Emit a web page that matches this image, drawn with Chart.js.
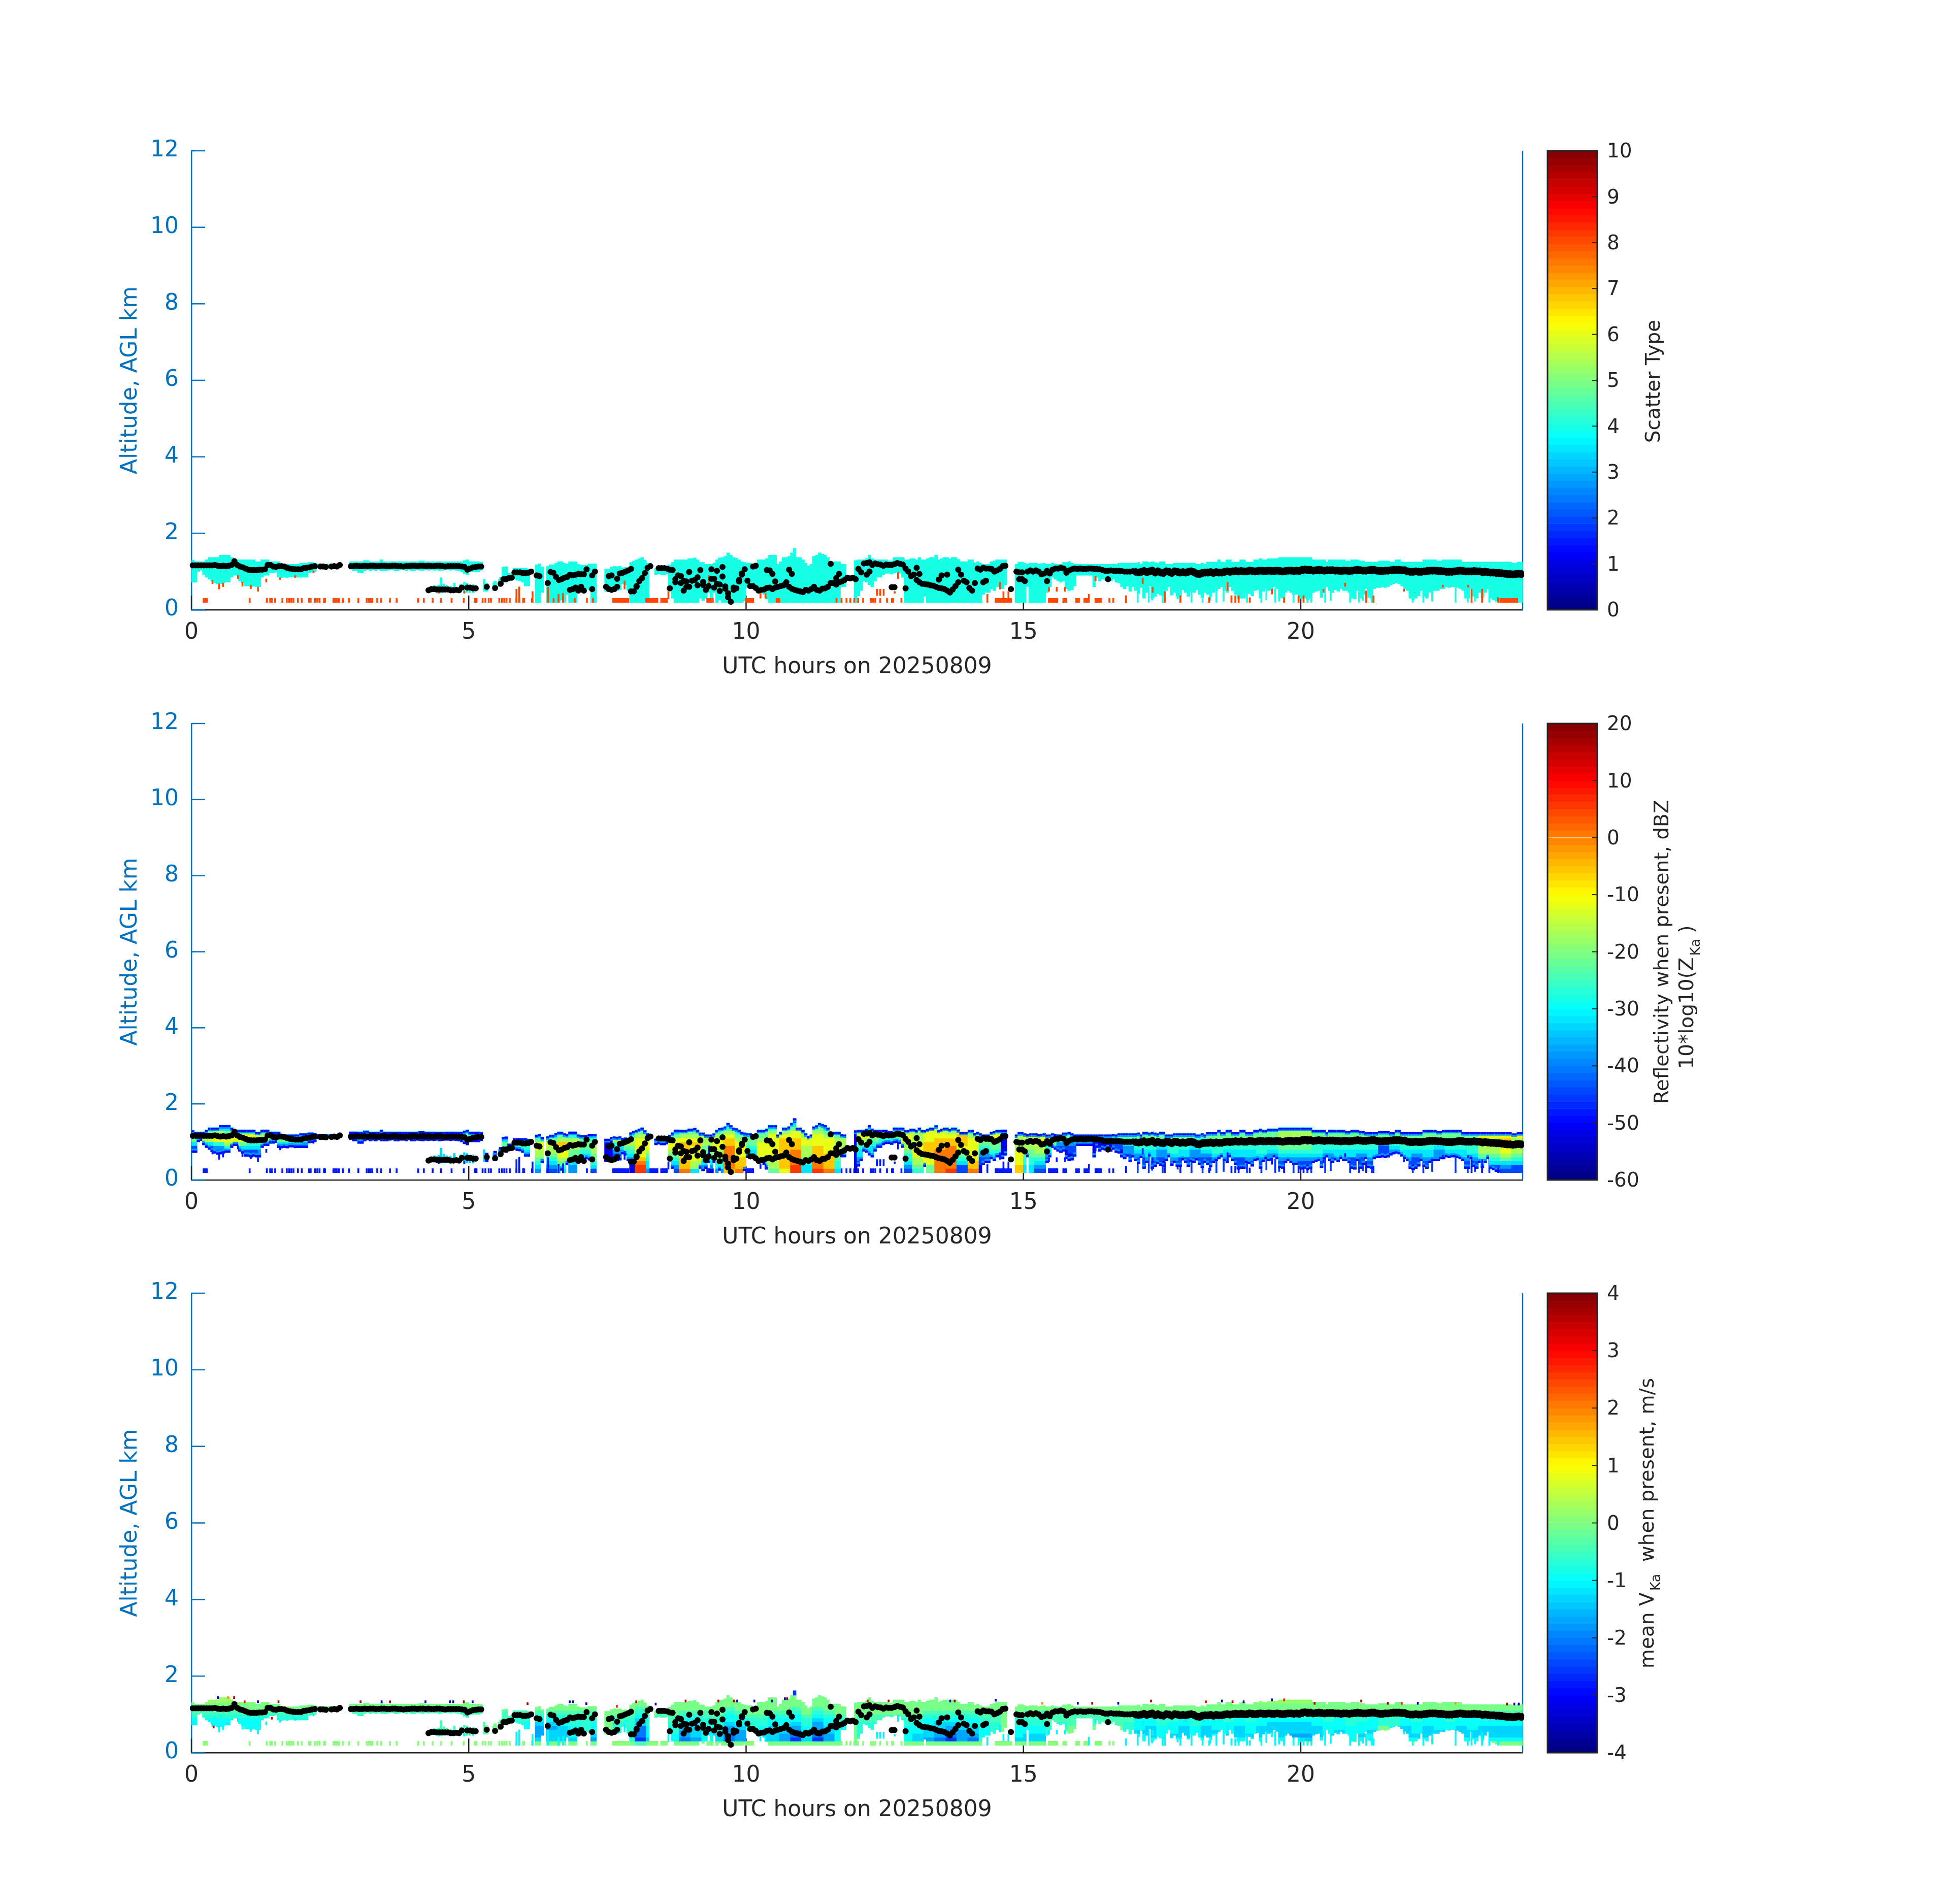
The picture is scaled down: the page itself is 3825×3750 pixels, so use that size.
<!DOCTYPE html>
<html>
<head>
<meta charset="utf-8">
<title>Radar time-height</title>
<script src="https://cdn.jsdelivr.net/npm/chart.js@4"></script>
<style>
    body { margin: 0; background: #fff; }
    #page { position: relative; width: 3825px; height: 3750px; background: #fff; }
    canvas { position: absolute; }
</style>
</head>
<body>
<div id="page"></div>
<script>
// tick labels
const xTicks = [0, 5, 10, 15, 20];
const yTicks = [0, 2, 4, 6, 8, 10, 12];
const typeTicks = [0, 1, 2, 3, 4, 5, 6, 7, 8, 9, 10];
const reflTicks = [-60, -50, -40, -30, -20, -10, 0, 10, 20];
const velTicks = [-4, -3, -2, -1, 0, 1, 2, 3, 4];

// cloud top per hour, 20 columns an hour, unit 10 m, 0 = nothing
const cloudTop = [
    [130,126,126,126,126,131,137,137,137,137,143,143,143,143,137,131,131,131,131,131],
    [131,131,131,126,126,131,131,131,126,126,126,126,119,119,119,119,119,119,119,122],
    [122,122,124,124,122,120,120,120,120,120,119,119,120,118,0,0,0,126,126,126],
    [126,126,129,129,126,126,126,126,131,126,126,126,126,126,126,126,126,126,126,126],
    [126,126,128,128,126,126,126,126,126,126,126,126,126,126,126,126,126,126,129,131],
    [126,126,126,126,125,0,70,0,0,75,0,85,112,113,95,95,109,109,109,109],
    [109,107,0,0,118,120,112,0,114,118,118,122,126,126,122,120,126,126,126,119],
    [117,117,117,120,120,120,0,0,0,107,107,112,114,113,114,110,111,108,124,128],
    [131,134,137,130,122,0,0,108,112,108,108,109,118,124,131,131,131,131,131,134],
    [134,136,131,124,124,119,119,119,122,131,136,137,140,149,143,137,135,131,126,124],
    [122,122,119,119,131,131,131,134,143,143,143,119,126,137,137,140,149,161,137,137],
    [131,122,115,119,140,143,149,146,143,137,126,126,126,126,120,119,0,0,0,129],
    [131,131,131,134,143,134,131,131,131,131,131,128,128,137,137,137,137,131,131,134],
    [134,131,137,131,131,134,137,137,143,131,134,137,137,134,137,137,132,126,126,126],
    [131,131,123,126,122,119,119,119,126,128,131,131,131,131,0,0,0,119,125,125],
    [122,120,122,122,122,120,121,122,119,119,122,120,119,119,124,124,126,122,119,119],
    [119,119,119,119,119,119,119,119,119,119,119,119,120,119,122,122,122,122,122,122],
    [122,124,119,126,126,124,126,124,122,126,126,119,119,119,122,122,122,122,122,122],
    [122,122,119,119,122,119,125,125,125,125,131,125,125,131,131,125,125,125,131,131],
    [125,125,125,131,131,134,131,131,134,134,134,134,137,137,137,137,137,137,137,137],
    [137,137,137,137,131,131,131,131,131,125,131,131,131,131,131,131,128,128,131,131],
    [131,128,128,125,125,125,125,125,128,128,128,128,125,125,131,131,125,125,125,125],
    [125,125,125,125,131,131,131,131,131,128,128,131,131,131,131,131,131,131,125,125],
    [125,125,125,125,125,125,125,125,125,125,125,125,125,125,125,125,122,122,125,125]
];

// cloud base, same columns
const cloudBase = [
    [72,72,100,103,92,85,80,74,70,67,68,70,72,72,85,90,90,75,70,62],
    [62,60,62,60,60,85,90,90,96,96,98,85,84,85,84,86,86,85,85,85],
    [85,85,97,98,100,108,108,110,108,110,108,110,110,112,0,0,0,106,102,102],
    [96,96,102,105,102,104,102,105,102,102,102,104,105,102,102,104,104,102,105,102],
    [102,104,103,102,104,103,104,103,104,102,103,104,104,103,104,103,102,100,95,92],
    [100,100,100,100,103,0,48,0,0,50,0,65,75,72,78,80,80,77,76,72],
    [62,62,0,0,19,19,45,0,19,19,19,19,19,25,19,40,19,19,19,45],
    [50,50,55,52,19,19,0,0,0,48,48,48,48,50,52,68,65,50,19,19],
    [19,19,19,19,19,0,0,92,94,92,92,94,50,30,19,19,19,19,19,19],
    [19,19,19,30,24,30,45,19,45,19,25,19,19,19,19,19,19,19,19,24],
    [58,58,58,55,45,50,40,28,19,19,19,19,19,19,19,19,19,19,19,19],
    [19,19,19,19,19,19,19,19,19,19,19,19,19,19,60,60,0,0,0,19],
    [36,50,75,72,65,60,75,85,85,92,95,95,93,97,98,95,85,19,19,19],
    [19,19,19,19,35,19,19,19,19,19,19,19,19,19,19,19,19,19,19,19],
    [19,19,19,19,19,40,45,45,55,50,60,60,55,65,0,0,0,19,19,19],
    [19,60,19,19,19,19,19,19,45,60,85,80,75,72,75,55,50,52,62,90],
    [90,90,90,90,90,60,85,75,80,78,82,75,80,72,70,60,55,62,48,60],
    [50,42,58,30,45,62,30,35,42,38,35,50,60,38,45,35,35,52,45,35],
    [48,45,52,40,32,45,40,34,45,50,55,60,50,45,60,50,40,28,30,30],
    [45,42,36,50,52,30,48,55,50,52,60,55,32,30,45,50,45,40,40,30],
    [28,30,26,30,45,48,50,32,55,60,50,45,52,48,55,50,50,45,30,28],
    [50,30,40,55,32,30,55,58,58,60,58,60,65,68,70,68,62,55,50,30],
    [26,30,36,50,35,30,45,50,50,50,55,55,60,58,60,60,58,55,50,30],
    [30,55,35,30,45,32,45,55,30,26,22,22,19,19,19,19,19,19,19,19]
];

// cloud base dots from the ceilometer, same columns, unit 10 m
const ceilUpper = [
    [116,116,116,116,116,116,116,116,117,115,114,115,114,115,117,127,117,113,111,108],
    [105,104,104,104,105,105,106,117,117,113,112,114,114,113,110,108,107,106,106,106],
    [109,110,111,113,114,0,113,113,112,0,113,114,113,117,0,0,0,114,114,115],
    [114,114,115,114,115,115,114,114,115,115,114,114,115,115,114,114,113,114,114,115],
    [115,114,115,115,114,115,114,114,115,115,114,113,114,114,114,114,114,113,112,105],
    [108,111,112,113,113,0,0,0,0,0,0,68,80,80,83,84,98,98,98,96],
    [96,97,100,0,90,88,0,0,70,99,97,86,78,80,84,86,92,90,92,94],
    [93,93,106,0,90,100,0,0,0,0,88,90,0,81,95,97,100,103,107,0],
    [62,75,83,96,110,114,0,0,109,109,109,108,105,104,80,90,88,76,74,99],
    [76,78,85,104,73,52,62,106,81,102,49,112,61,43,21,52,56,74,95,106],
    [76,62,62,57,50,52,53,57,58,54,58,60,62,64,72,60,55,52,50,48],
    [46,52,50,54,60,52,50,55,56,60,70,70,66,72,74,78,84,82,84,80],
    [107,98,121,122,124,117,121,119,118,115,118,117,117,119,122,120,118,108,100,88],
    [92,78,72,68,67,66,64,63,60,57,56,54,50,45,53,62,72,0,76,72],
    [57,50,70,108,105,110,108,108,107,100,103,107,114,115,0,0,0,100,98,98],
    [75,100,103,100,103,100,93,95,102,95,105,108,108,110,108,97,103,106,108,107],
    [108,107,107,108,108,107,107,106,104,102,102,103,102,102,102,101,100,100,100,101],
    [101,100,102,104,101,103,105,100,103,100,99,103,102,99,103,102,100,101,100,102],
    [103,101,97,96,99,100,100,101,99,101,100,100,102,103,102,103,104,103,104,103],
    [103,105,104,103,104,105,104,104,105,104,104,105,104,103,104,105,105,104,105,104],
    [107,108,107,107,105,106,107,106,105,106,106,106,105,105,104,105,105,104,105,106],
    [107,106,105,105,106,107,107,105,104,104,105,105,106,107,107,107,106,106,103,102],
    [102,103,102,102,103,104,105,105,105,104,104,103,102,102,102,103,104,105,104,103],
    [103,103,104,103,103,101,102,101,100,100,99,99,98,97,96,96,95,96,97,96]
];

const ceilLower = [
    [], [], [], [],
    [0,0,0,0,0,51,54,54,53,53,53,53,53,51,51,52,51,58,0,58],
    [58,56,56,0,0,0,60,0,0,57],
    [0,0,0,0,0,0,0,0,0,0,0,0,0,0,0,0,52,54,58,50],
    [60,50,0,0,54,0,0,0,0,60,54,52,54,60,0,0,0,0,48,48],
    [60,0,0,0,0,0,0,0,0,0,0,0,56,0,72,0,70,50,60,60],
    [0,0,64,0,65,0,0,81,58,68,66,87,55,33,0,58,0,78,92,0],
    [0,0,113,115,0,0,0,104,103,94,74,0,0,0,0,105,94,0,0,0],
    [0,0,0,0,0,0,0,0,0,0,120,0,83,94,0,0,0,0,0,0],
    [0,0,0,92,100,0,0,0,0,0,0,0,59,59,0,0,0,56,0,0],
    [0,110,94,0,0,0,0,0,0,79,90,0,92,0,0,0,105,92,0,0],
    [0,0,0,0,0,72,76,0,0,0,0,0,0,0,0,54,0,0,80,80],
    [0,0,0,0,0,0,0,0,75],
    [0,0,0,0,0,0,0,0,0,0,80],
    [97,96,97,99,96,98,100,95,98,95,94,98,97,94,98,97,95,96,95,97],
    [98,96,92,91,94,95,95,96,94,96,95,95,97,98,97,98,99,98,99,98],
    [98,100,99,98,99,100,99,99,100,99,99,100,99,98,99,100,100,99,100,99],
    [101,103,101,102,100,101,102,101,100,101,101,101,100,100,99,100,100,99,100,101],
    [102,101,100,100,101,102,102,100,99,99,100,100,101,102,102,102,101,101,98,97],
    [97,98,97,97,98,99,100,100,100,99,99,98,97,97,97,98,99,100,99,98],
    [98,98,99,98,98,96,97,96,95,95,94,94,93,92,91,91,90,91,92,91]
];

// reflectivity: 5 profiles an hour, one digit per gate from the ground up, digit picks from reflLevels
const gateEdges = [0.19, 0.3, 0.4, 0.5, 0.6, 0.7, 0.8, 0.9, 1.0, 1.1, 1.2, 1.3, 1.4, 1.5, 1.7];
const reflLevels = [-52, -45, -38, -32, -27, -22, -17, -12, -6, 0, 6];
const reflGrid = [
    ["00000013565310","00000013665310","00000124776310","00001246775310","00000135775210"],
    ["00000134775210","00000234665100","00000013553100","00000003553100","00000003543100"],
    ["00000002443100","00000002332100","00000002332100","00000002332100","00000001332100"],
    ["00000001353100","00000001354100","00000001253100","00000001353100","00000001354100"],
    ["00000001353100","00000001253100","00000001354100","00000001353100","00000001354100"],
    ["00000001353100","00000001353100","00000000000000","00001245310000","00001245310000"],
    ["00112345410000","23456677530000","12345667531000","34567778653100","22345567642100"],
    ["11123455543100","13455666432100","00000000000000","00111234653100","00123456642100"],
    ["aa987777765310","23345677653100","00000000353000","12345677753100","98887788765310"],
    ["36677778765310","02345556665310","24466677765310","89999998876420","98887777654210"],
    ["01233345553100","13567777655310","56677777776420","78888888876420","aa999988877531"],
    ["33456667765420","a9998887776531","98888777765310","34455566654200","00000000000110"],
    ["00123345676420","00012334565310","00000123456310","00000012455310","12344566776420"],
    ["45667776666420","55778888777420","99999988877631","a9999998876420","11345678887420"],
    ["98877777765310","00112345666410","00123455676420","00000000000000","88777766665310"],
    ["33445566676420","12345667775310","00012345676420","00000012455420","00000112455310"],
    ["00000001455420","00000000355420","00000000355420","00000011355420","00001223455420"],
    ["00112344455310","00123344455310","00012234455310","01123444555310","00113344555410"],
    ["00012234455310","00112344455310","01123444555310","00123344455310","00113344555410"],
    ["00123344455310","01123444555410","00112344455310","00123455566420","00123455566420"],
    ["00123455566420","01123444555410","00112344455310","00123344555410","00113344555410"],
    ["00112344455410","00123344455410","00000112455420","00012234455410","00123344455410"],
    ["00112344455410","00123344555410","00012234455410","00113344555410","00123344555420"],
    ["01123444555420","11345666677520","11345666677520","12356778877520","11345666677520"]
];

// mean velocity, same layout, digit picks from velLevels
const velLevels = [-2.6, -2.1, -1.7, -1.3, -1.0, -0.7, -0.4, -0.1, 0.2, 0.6];
const velGrid = [
    ["74444445677880","74444445677880","74444445677880","74444445677880","74444445677880"],
    ["74444445677880","74444445677880","74444555677780","74445555677780","74445555677780"],
    ["77775555677770","77777775677770","77777775677770","77777775677770","77777775677770"],
    ["77777775677770","77777775677770","77777775677780","77777775677770","77777775677770"],
    ["77777775677770","77777775677770","77777775677780","77777775677770","77777775677770"],
    ["77777775677770","77777775677770","77777777777770","77775556677770","77775556677770"],
    ["77444456677770","73222345677770","73332345677770","73333445677770","73444556677770"],
    ["74555556677770","72344456677770","77777777777770","77555566777770","75555556777770"],
    ["60111334567770","73444556777770","77777776677770","74455566777770","71223445677770"],
    ["72333445677770","74444556677770","73344556777770","71122344567770","72223445677770"],
    ["75555556777770","73344556777770","73333445677770","72233445677770","70112344567770"],
    ["73344556777770","70112234567770","72233445677770","74444556777770","77777777777770"],
    ["77555566777770","77555566777770","77777666777770","77777666777770","74444556777770"],
    ["73344556777770","72333445677770","71223345677770","70122345677770","72223445677770"],
    ["71233445677770","75444556777770","75555566777770","77777777777770","73444556777770"],
    ["73344556677770","73344556677770","75555666777770","77775566777770","77777666777770"],
    ["77777666777770","77777666777770","77777666777770","77777666777770","77555566777770"],
    ["74434445677770","74333445677770","74444556777780","74344455677780","74333445677770"],
    ["74444556777780","74333445677770","74434445677780","74344455677780","74333445677880"],
    ["74344455677880","74333445677880","74333345677880","74333345677880","74233345677880"],
    ["73233345677880","74333445677780","74344455677780","74434445677780","74444556777780"],
    ["74344455677780","74434445677780","77777555677770","74444556777780","74333445677780"],
    ["74344455677780","74333445677780","74434445677780","74344455677780","74333445677780"],
    ["74334445677780","74333445677780","74333445677880","74333445677880","74333445677880"]
];

// thin ticks of the lowest gates, hours
const groundTicks = [0.22,0.25,0.28,1.05,1.36,1.42,1.45,1.51,1.64,1.72,1.76,1.8,1.84,1.92,1.99,2.12,2.15,2.23,2.27,2.31,2.39,2.41,2.56,2.59,2.62,2.66,2.73,2.84,3.01,3.16,3.2,3.23,3.26,3.35,3.42,3.58,3.7,4.09,4.19,4.35,4.5,4.69,4.91,5.11,5.14,5.25,5.3,5.36,5.4,5.55,5.6,5.64,5.68,5.74,5.86,5.91,5.98,6.0,6.14,6.43,6.53,6.62,6.7,6.91,7.13,7.24,11.63,11.72,11.81,11.88,11.95,12.02,12.11,12.25,12.29,12.33,12.42,12.54,12.63,12.65,12.8,16.55,16.62];
const groundStart = [7.6, 8.2, 8.47, 9.3, 10.0, 10.55, 14.5, 15.46, 15.72, 15.95, 16.1, 16.3, 23.6];
const groundEnd = [7.88, 8.42, 8.58, 9.42, 10.15, 10.62, 14.8, 15.62, 15.78, 16.02, 16.16, 16.42, 23.92];

// short echoes hanging under the cloud: hour, low and high edge in 10 m
const spikeHours = [0.38,0.5,0.57,0.84,0.92,1.07,1.2,1.35,1.6,1.87,2.2,4.46,4.92,5.86,5.91,6.15,6.43,6.62,6.7,7.49,7.81,8.6,9.33,10.26,10.35,12.36,12.42,12.48,12.68,12.74,14.35,14.58,14.64,14.73,15.46,15.6,15.75,16.18,16.3,16.85,17.15,17.33,17.55,17.83,18.35,18.68,18.75,18.82,18.88,19.08,19.48,19.7,19.96,20.05,20.41,20.8,21.18,21.31,21.86,22.05,22.56,23.02,23.08,23.27,23.56];
const spikeLow = [68,54,60,81,61,55,48,72,79,84,96,43,43,19,19,19,19,19,19,54,54,28,54,30,30,37,37,37,43,81,19,54,30,30,48,48,48,19,76,19,68,45,19,19,19,50,19,19,19,19,41,19,19,19,45,61,19,19,48,45,59,59,19,19,19];
const spikeHigh = [77,68,70,90,72,65,59,81,84,90,102,50,50,54,60,48,59,41,43,65,76,48,90,43,43,54,54,54,48,98,41,72,48,48,59,59,59,41,87,37,83,59,48,37,32,72,37,37,37,32,54,32,37,37,54,70,50,37,54,45,65,65,54,54,32];

// thin needles reaching down from the cloud after 17 UTC: hour, low and high edge in 10 m
const needleHours = [17.06,17.26,17.32,17.51,17.78,18.03,18.23,18.37,18.48,18.61,19.03,19.29,19.38,19.54,19.61,19.7,19.87,20.12,20.19,20.44,20.54,20.89,21.05,21.12,21.28,22.02,22.21,22.37,22.79,23.01,23.14,23.27,23.4];
const needleLow = [19,19,25,19,28,19,19,24,19,22,19,19,26,19,22,19,19,19,19,19,24,19,19,24,19,19,19,22,19,19,22,19,19];
const needleHigh = [55,60,50,60,60,55,50,55,60,55,60,55,55,55,60,55,55,50,50,60,60,60,55,60,60,60,55,60,60,60,55,60,60];

// second thin layer around 0.5 km, hour, low and high edge in 10 m
const layerHours = [4.25,4.32,4.38,4.42,4.46,4.5,4.55,4.6,4.67,4.74,4.85,4.92,4.97,5.02,5.08,5.28,5.45,5.55];
const layerLow = [46,46,48,45,46,44,45,46,44,47,47,44,45,45,44,48,50,60];
const layerHigh = [56,60,64,62,65,84,68,64,62,70,66,72,70,62,66,80,70,80];

// odd velocity pixels along the cloud top: hour, km in 10 m, m/s
const speckHours = [0.48,0.66,0.77,0.96,1.2,1.57,1.45,0.4,3.05,3.43,3.58,4.22,4.66,4.72,4.91,5.07,6.06,6.82,6.88,7.12,7.67,8.02,8.37,8.91,9.5,9.78,9.84,10.15,10.47,10.7,10.74,12.19,12.57,13.68,13.76,14.5,15.34,15.98,16.24,16.71,17.3,18.29,18.58,18.77,18.97,19.48,19.7,20.25,21.09,21.57,21.82,22.11,22.79,23.72,23.85,23.93];
const speckKm = [141,141,141,130,130,130,87,64,130,130,130,130,130,130,130,130,125,130,130,125,118,130,124,132,132,132,132,132,132,138,138,132,132,132,132,134,126,126,126,126,132,130,132,130,130,135,135,126,132,126,126,126,126,124,124,124];
const speckMs = [-3.5,1.8,3.6,2.8,-3.5,3.6,3.6,3.6,3.6,-3.5,3.6,-3.5,-3.5,-3.5,3.6,-3.5,3.6,-3.5,-3.5,-3.5,2.8,3.6,-3.5,3.6,3.6,3.6,-3.5,-3.5,-3.5,-3.5,3.6,3.6,3.6,-3.5,3.6,-3.5,1.8,-3.5,3.6,-3.5,3.6,2.8,-3.5,3.6,-3.5,-3.5,2.8,3.6,3.6,3.6,2.8,-3.5,1.8,3.6,-3.5,-3.5];

const blue = "#0072BD";
const ink = "#262626";
const fontFamily = "'DejaVu Sans'";
const colsPerHour = 20;
const groundTopKm = 0.3;

function jetColor(i, n) {
    const x = (i + 0.5) / n;
    const c = v => Math.round(255 * Math.max(0, Math.min(1, v)));
    const r = c(Math.min(4 * x - 1.5, -4 * x + 4.5));
    const g = c(Math.min(4 * x - 0.5, -4 * x + 3.5));
    const b = c(Math.min(4 * x + 0.5, -4 * x + 2.5));
    return `rgb(${r},${g},${b})`;
}

function levelColor(v, min, max) {
    const i = Math.max(0, Math.min(63, Math.floor((v - min) / (max - min) * 64)));
    return jetColor(i, 64);
}

function buildCells(grid, levels, fill, caps) {
    const cells = [];
    cloudTop.forEach((row, h) => row.forEach((t, k) => {
        if (!t) return;
        const x = h + (k + 0.5) / colsPerHour;
        const top = t / 100;
        const base = cloudBase[h][k] / 100;
        if (!grid) {
            cells.push({ x, y: [base, top], v: fill });
            return;
        }
        const profile = grid[h][Math.floor(k / 4)];
        for (let g = 0; g < gateEdges.length - 1; g++) {
            const lo = Math.max(base, gateEdges[g]);
            const hi = Math.min(top, gateEdges[g + 1]);
            if (hi > lo) cells.push({ x, y: [lo, hi + 0.01], v: levels[parseInt(profile[g], 16)] });
        }
        if (caps) {
            cells.push({ x, y: [top - 0.08, top - 0.04], v: caps[1] });
            cells.push({ x, y: [top - 0.04, top], v: caps[0] });
            if (base > 0.2) {
                cells.push({ x, y: [base + 0.05, base + 0.1], v: caps[1] });
                cells.push({ x, y: [base, base + 0.05], v: caps[0] });
            }
        }
    }));
    return cells;
}

function buildGround(v) {
    const out = groundTicks.map(x => ({ x, y: [0.19, groundTopKm], v }));
    groundStart.forEach((s, i) => {
        for (let x = s; x <= groundEnd[i]; x += 0.025) out.push({ x, y: [0.19, groundTopKm], v });
    });
    return out;
}

function buildDots() {
    const dots = [];
    [ceilUpper, ceilLower].forEach(src => src.forEach((row, h) => row.forEach((km, k) => {
        if (km) dots.push({ x: h + (k + 0.5) / colsPerHour, y: km / 100 });
    })));
    return dots;
}

function rangeBars(hours, low, high, v) {
    return hours.map((x, i) => ({ x, y: [low[i] / 100, high[i] / 100], v }));
}

const axisLines = {
    id: "axisLines",
    beforeDatasetsDraw(chart) {
        const { ctx, chartArea: a, scales } = chart;
        ctx.save();
        ctx.lineWidth = 2.5;
        ctx.strokeStyle = ink;
        xTicks.forEach(v => {
            const px = scales.x.getPixelForValue(v);
            ctx.beginPath(); ctx.moveTo(px, a.bottom); ctx.lineTo(px, a.bottom - 28); ctx.stroke();
        });
        ctx.strokeStyle = blue;
        yTicks.forEach(v => {
            const py = scales.y.getPixelForValue(v);
            ctx.beginPath(); ctx.moveTo(a.left, py); ctx.lineTo(a.left + 27, py); ctx.stroke();
        });
        ctx.beginPath(); ctx.moveTo(a.right, a.top); ctx.lineTo(a.right, a.bottom); ctx.stroke();
        ctx.restore();
    }
};

function drawMain(panel) {
    const canvas = document.createElement("canvas");
    const padTop = 40;
    const belowAxis = 170;
    const plotH = panel.bottom - panel.top;
    canvas.width = 3012;
    canvas.height = padTop + plotH + belowAxis;
    canvas.style.left = "0px";
    canvas.style.top = (panel.top - padTop) + "px";
    document.getElementById("page").appendChild(canvas);

    const color = ctx => ctx.raw ? levelColor(ctx.raw.v, panel.min, panel.max) : "#000";
    const common = { type: "bar", stack: "s", backgroundColor: color, borderWidth: 0 };
    const datasets = [
        { type: "scatter", data: buildDots(), pointRadius: 6, backgroundColor: "#000", borderWidth: 0, clip: false, order: 0 },
        { ...common, data: panel.speck || [], barThickness: 3, order: 1 },
        { ...common, data: panel.cells, barThickness: 6, order: panel.groundOnTop ? 4 : 3 },
        { ...common, data: buildGround(panel.groundValue), barThickness: 3, order: panel.groundOnTop ? 3 : 4 },
        { ...common, data: rangeBars(spikeHours, spikeLow, spikeHigh, panel.spikeValue), barThickness: 3, order: 2 },
        { ...common, data: rangeBars(needleHours, needleLow, needleHigh, panel.needleValue), barThickness: 3, order: 5 },
        { ...common, data: rangeBars(layerHours, layerLow, layerHigh, panel.layerValue), barThickness: 4, order: 6 }
    ];

    new Chart(canvas, {
        type: "bar",
        data: { datasets },
        plugins: [axisLines],
        options: {
            responsive: false,
            animation: false,
            layout: { autoPadding: false, padding: { top: padTop, left: 0, right: 13, bottom: 0 } },
            plugins: { legend: { display: false }, tooltip: { enabled: false } },
            scales: {
                x: {
                    type: "linear", min: 0, max: 24, offset: false,
                    afterFit: s => { s.height = belowAxis; s.paddingLeft = 0; s.paddingRight = 0; },
                    afterBuildTicks: s => { s.ticks = xTicks.map(value => ({ value })); },
                    grid: { drawTicks: false, drawOnChartArea: false, offset: false },
                    border: { color: ink, width: 2.5 },
                    ticks: { color: ink, font: { size: 44 }, padding: 19, maxRotation: 0, autoSkip: false, callback: v => String(v) },
                    title: { display: true, text: "UTC hours on 20250809", color: ink, font: { size: 44 }, padding: { top: 0, bottom: 30 } }
                },
                y: {
                    stacked: false, min: 0, max: 12,
                    afterFit: s => { s.width = 377; s.paddingTop = 0; s.paddingBottom = 0; },
                    afterBuildTicks: s => { s.ticks = yTicks.map(value => ({ value })); },
                    grid: { drawTicks: false, drawOnChartArea: false },
                    border: { color: blue, width: 2.5 },
                    ticks: { color: blue, font: { size: 44 }, padding: 25, autoSkip: false, callback: v => String(v) },
                    title: { display: true, text: "Altitude, AGL km", color: blue, font: { size: 44 }, padding: { top: 231, bottom: 0 } }
                }
            }
        }
    });
}

function drawColorbar(panel) {
    const canvas = document.createElement("canvas");
    const left = 3000;
    const pad = 40;
    canvas.width = 500;
    canvas.height = panel.bottom - panel.top + pad * 2;
    canvas.style.left = left + "px";
    canvas.style.top = (panel.top - pad) + "px";
    document.getElementById("page").appendChild(canvas);

    const steps = [];
    for (let i = 0; i < 64; i++) {
        const span = (panel.max - panel.min) / 64;
        steps.push({ x: 0.5, y: [panel.min + i * span, panel.min + (i + 1) * span], i });
    }

    const barFrame = {
        id: "barFrame",
        afterDatasetsDraw(chart) {
            const { ctx, chartArea: a, scales } = chart;
            ctx.save();
            ctx.strokeStyle = ink;
            ctx.lineWidth = 3;
            ctx.strokeRect(a.left, a.top, a.right - a.left, a.bottom - a.top);
            ctx.lineWidth = 2;
            panel.ticks.forEach(v => {
                const py = scales.y.getPixelForValue(v);
                ctx.beginPath(); ctx.moveTo(a.right - 10, py); ctx.lineTo(a.right, py); ctx.stroke();
            });
            ctx.fillStyle = ink;
            ctx.textBaseline = "middle";
            panel.labels.forEach(line => {
                ctx.save();
                ctx.translate(line.x - left, line.y - panel.top + pad);
                ctx.rotate(-Math.PI / 2);
                const big = `39px ${fontFamily}`;
                const small = `27px ${fontFamily}`;
                ctx.font = big;
                const w1 = ctx.measureText(line.before).width;
                const w3 = line.after ? ctx.measureText(line.after).width : 0;
                ctx.font = small;
                const w2 = line.sub ? ctx.measureText(line.sub).width + line.gap : 0;
                let px = -(w1 + w2 + w3) / 2;
                ctx.textAlign = "left";
                ctx.font = big;
                ctx.fillText(line.before, px, 0);
                px += w1;
                if (line.sub) {
                    ctx.font = small;
                    ctx.fillText(line.sub, px + 3, 16);
                    px += w2;
                    ctx.font = big;
                    ctx.fillText(line.after, px, 0);
                }
                ctx.restore();
            });
            ctx.restore();
        }
    };

    new Chart(canvas, {
        type: "bar",
        data: {
            datasets: [{
                data: steps,
                stack: "s",
                barThickness: 98,
                borderWidth: 0,
                backgroundColor: ctx => ctx.raw ? jetColor(ctx.raw.i, 64) : "#000"
            }]
        },
        plugins: [barFrame],
        options: {
            responsive: false,
            animation: false,
            layout: { autoPadding: false, padding: { top: pad, bottom: pad, left: 48, right: 0 } },
            plugins: { legend: { display: false }, tooltip: { enabled: false } },
            scales: {
                x: { type: "linear", min: 0, max: 1, offset: false, display: false },
                y: {
                    position: "right",
                    stacked: false,
                    min: panel.min, max: panel.max,
                    afterFit: s => { s.width = 354; s.paddingTop = 0; s.paddingBottom = 0; },
                    afterBuildTicks: s => { s.ticks = panel.ticks.map(value => ({ value })); },
                    grid: { drawTicks: false, drawOnChartArea: false },
                    border: { display: false },
                    ticks: { color: ink, font: { size: 39 }, padding: 19, labelOffset: 3, autoSkip: false, callback: v => String(v) }
                }
            }
        }
    });
}

Chart.defaults.font.family = fontFamily;

const panels = [
    {
        top: 297, bottom: 1201, min: 0, max: 10, ticks: typeTicks,
        cells: buildCells(null, null, 4), groundOnTop: true,
        groundValue: 8, spikeValue: 8, needleValue: 4, layerValue: 4,
        labels: [{ before: "Scatter Type", x: 3259, y: 751 }]
    },
    {
        top: 1425, bottom: 2324, min: -60, max: 20, ticks: reflTicks,
        cells: buildCells(reflGrid, reflLevels, 0, [-50, -38]), groundOnTop: false,
        groundValue: -48, spikeValue: -48, needleValue: -46, layerValue: -33,
        labels: [
            { before: "Reflectivity when present, dBZ", x: 3276, y: 1875 },
            { before: "10*log10(Z", sub: "Ka", gap: 14, after: ")", x: 3325, y: 1964 }
        ]
    },
    {
        top: 2547, bottom: 3452, min: -4, max: 4, ticks: velTicks,
        cells: buildCells(velGrid, velLevels, 0, null), groundOnTop: false,
        groundValue: 0.05, spikeValue: -1.1, needleValue: -1.1, layerValue: -0.4,
        speck: speckHours.map((x, i) => ({ x, y: [speckKm[i] / 100, speckKm[i] / 100 + 0.06], v: speckMs[i] })),
        labels: [{ before: "mean V", sub: "Ka", gap: 14, after: " when present, m/s", x: 3247, y: 3000 }]
    }
];

panels.forEach(p => {
    drawMain(p);
    drawColorbar(p);
});
</script>
</body>
</html>
